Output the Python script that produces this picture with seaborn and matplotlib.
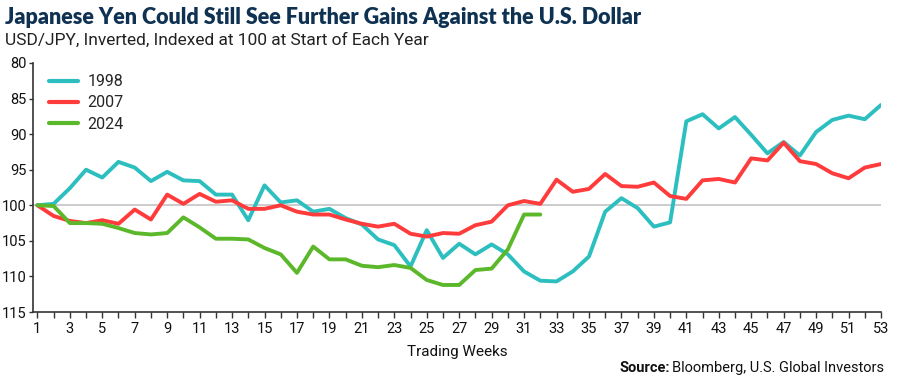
import numpy as np
import pandas as pd
import matplotlib
matplotlib.use("Agg")
import matplotlib.pyplot as plt
import seaborn as sns

weeks_1998 = list(range(1, 54))
vals_1998 = [100, 99.8, 97.6, 95.0, 96.1, 93.9, 94.7, 96.6, 95.3, 96.5,
             96.6, 98.5, 98.5, 102.1, 97.2, 99.6, 99.3, 100.9, 100.5, 101.8,
             102.7, 104.8, 105.6, 108.6, 103.5, 107.4, 105.4, 106.9, 105.5, 106.9,
             109.3, 110.6, 110.7, 109.3, 107.2, 100.9, 99.0, 100.4, 103.0, 102.4,
             88.2, 87.2, 89.2, 87.6, 90.1, 92.7, 91.1, 93.0, 89.7, 88.0,
             87.4, 87.9, 85.9]
weeks_2007 = list(range(1, 54))
vals_2007 = [100, 101.5, 102.2, 102.5, 102.1, 102.6, 100.6, 102.0, 98.5, 99.8,
             98.4, 99.5, 99.3, 100.5, 100.5, 100.0, 100.9, 101.3, 101.3, 102.0,
             102.6, 103.0, 102.6, 104.0, 104.4, 103.9, 104.0, 102.8, 102.3, 100.0,
             99.4, 99.8, 96.4, 98.1, 97.7, 95.6, 97.3, 97.4, 96.8, 98.7,
             99.1, 96.5, 96.3, 96.8, 93.4, 93.7, 91.2, 93.8, 94.2, 95.5,
             96.2, 94.7, 94.2]
weeks_2024 = list(range(1, 33))
vals_2024 = [100, 100.1, 102.5, 102.5, 102.6, 103.2, 103.9, 104.1, 103.9, 101.7,
             103.1, 104.7, 104.7, 104.8, 106.0, 106.9, 109.5, 105.8, 107.6, 107.6,
             108.5, 108.7, 108.4, 108.8, 110.5, 111.2, 111.2, 109.1, 108.9, 106.2,
             101.3, 101.3]

series_names = ["1998", "2007", "2024"]
colors = ["#2dbfbf", "#ff3b3b", "#5cb82b"]
yticks = [80, 85, 90, 95, 100, 105, 110, 115]
xticks_labeled = list(range(1, 54, 2))

df = pd.concat([
    pd.DataFrame({"week": weeks_1998, "value": vals_1998, "year": "1998"}),
    pd.DataFrame({"week": weeks_2007, "value": vals_2007, "year": "2007"}),
    pd.DataFrame({"week": weeks_2024, "value": vals_2024, "year": "2024"}),
])

sns.set_theme(style="white")
plt.rcParams["font.family"] = ["Roboto", "DejaVu Sans"]

fig = plt.figure(figsize=(9, 3.8), dpi=100)
ax = fig.add_axes([33 / 900, 1 - 312 / 380, (881 - 33) / 900, (312 - 63) / 380])

ax.axhline(100, color="#c8c8c8", lw=1.3, zorder=1)
sns.lineplot(data=df, x="week", y="value", hue="year", palette=dict(zip(series_names, colors)),
             hue_order=series_names, lw=2.8, ax=ax, legend=True, zorder=3)

ax.set_ylim(115, 80)
ax.set_xlim(0.73, 53)
ax.set_yticks(yticks)
ax.set_yticklabels([str(t) for t in yticks], fontsize=10.5, color="#111111")
ax.set_xticks(xticks_labeled)
ax.set_xticklabels([str(t) for t in xticks_labeled], fontsize=10.5, color="#111111")
ax.set_xticks(list(range(2, 53, 2)), minor=True)
ax.tick_params(axis="x", which="both", direction="out", length=4.5, width=1, color="#333333",
               bottom=True, pad=3)
ax.tick_params(axis="y", which="both", direction="out", length=3, width=1, color="#333333",
               left=True, pad=1.5)

for s in ["top", "right"]:
    ax.spines[s].set_visible(False)
for s in ["left", "bottom"]:
    ax.spines[s].set_color("#333333")
    ax.spines[s].set_linewidth(1.2)

ax.set_ylabel("")
ax.set_xlabel("Trading Weeks", fontsize=11, color="#111111", labelpad=6)

leg = ax.legend(loc="upper left", frameon=False, fontsize=11.5, handlelength=1.8,
                handletextpad=0.6, labelspacing=0.38, bbox_to_anchor=(0.002, 1.012))
for line in leg.get_lines():
    line.set_linewidth(3)

fig.text(0.006, 0.955, "Japanese Yen Could Still See Further Gains Against the U.S. Dollar",
         fontsize=15.5, fontweight="heavy", color="#0f3252", family=["Lato", "DejaVu Sans"],
         va="center", ha="left")
fig.text(0.006, 0.893, "USD/JPY, Inverted, Indexed at 100 at Start of Each Year",
         fontsize=12.5, color="#222222", va="center", ha="left")

t1 = fig.text(0.982, 0.032, "Bloomberg, U.S. Global Investors", fontsize=10.5,
              color="#111111", ha="right", va="center")
fig.canvas.draw()
bb = t1.get_window_extent()
fig.text(bb.x0 / 900 - 0.002, 0.032, "Source:", fontsize=10.5, fontweight="bold",
         color="#111111", ha="right", va="center")

fig.savefig("out.png", dpi=100)
